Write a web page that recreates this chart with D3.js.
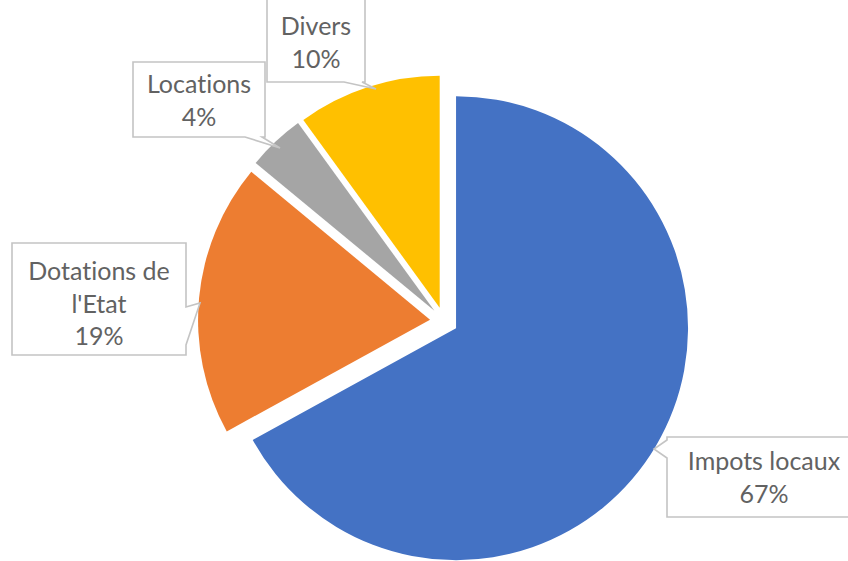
<!DOCTYPE html>
<html>
<head>
<meta charset="utf-8">
<script src="https://cdn.jsdelivr.net/npm/d3@7"></script>
<style>
  body { margin: 0; background: #fff; }
  svg { display: block; }
  .callout path { fill: #fff; stroke: #c4c4c4; stroke-width: 1.6; }
  .callout text { fill: #626262; font-family: Lato, "Open Sans", sans-serif; font-size: 25px; text-anchor: middle; font-variant-ligatures: none; }
</style>
</head>
<body>
<svg width="848" height="561"></svg>
<script>

// data
var categories = ["Impots locaux", "Dotations de l'Etat", "Locations", "Divers"];
var values = [67, 19, 4, 10];
var colors = ["#4472C4", "#ED7D31", "#A5A5A5", "#FFC000"];

// label lines as shown in each callout
var labelLines = [["Impots locaux"], ["Dotations de", "l'Etat"], ["Locations"], ["Divers"]];

// callout box layout (x, y, w, h, tail side, tail base, tail tip, text centre)
var boxes = [
  {x: 667, y: 437, w: 210, h: 80, side: "left", p1: 458, p2: 440, tip: [654, 449], cx: 764, ty: 470},
  {x: 12, y: 243, w: 174, h: 112, side: "right", p1: 307, p2: 345, tip: [200, 303], cx: 99, ty: 280},
  {x: 133, y: 62, w: 132, h: 75, side: "bottom", p1: 262, p2: 245, tip: [280, 148], cx: 199, ty: 93},
  {x: 267, y: -5, w: 98, h: 87, side: "bottom", p1: 362, p2: 344, tip: [376, 89], cx: 316, ty: 35}
];

var svg = d3.select("svg"),
    width = +svg.attr("width"),
    height = +svg.attr("height");

var cx = 444, cy = 321, radius = 232, explode = 14;

var pie = d3.pie()
    .sort(null)
    .value(function(d) { return d; });

var arc = d3.arc()
    .innerRadius(0)
    .outerRadius(radius);

var arcs = pie(values);

var g = svg.append("g")
    .attr("transform", "translate(" + cx + "," + cy + ")");

g.selectAll("path")
  .data(arcs)
  .enter()
  .append("path")
    .attr("fill", function(d, i) { return colors[i]; })
    .attr("transform", function(d) {
        var a = (d.startAngle + d.endAngle) / 2;
        return "translate(" + (Math.sin(a) * explode) + "," + (-Math.cos(a) * explode) + ")";
    })
    .attr("d", arc);

var calloutPath = function(b) {
    var x = b.x, y = b.y, w = b.w, h = b.h, t = b.tip;
    var pts = [[x, y]];
    if (b.side == "top") pts.push([b.p1, y], t, [b.p2, y]);
    pts.push([x + w, y]);
    if (b.side == "right") pts.push([x + w, b.p1], t, [x + w, b.p2]);
    pts.push([x + w, y + h]);
    if (b.side == "bottom") pts.push([b.p1, y + h], t, [b.p2, y + h]);
    pts.push([x, y + h]);
    if (b.side == "left") pts.push([x, b.p1], t, [x, b.p2]);
    return "M" + pts.map(function(p) { return p.join(","); }).join("L") + "Z";
};

var callouts = svg.selectAll(".callout")
  .data(arcs)
  .enter()
  .append("g")
    .attr("class", "callout");

callouts.append("path")
    .attr("d", function(d, i) { return calloutPath(boxes[i]); });

callouts.each(function(d, i) {
    var lines = labelLines[i].concat([values[i] + "%"]);
    var b = boxes[i];
    d3.select(this).selectAll("text")
      .data(lines)
      .enter()
      .append("text")
        .attr("x", b.cx)
        .attr("y", function(l, j) { return b.ty + j * 32.5; })
        .text(function(l) { return l; });
});

</script>
</body>
</html>
